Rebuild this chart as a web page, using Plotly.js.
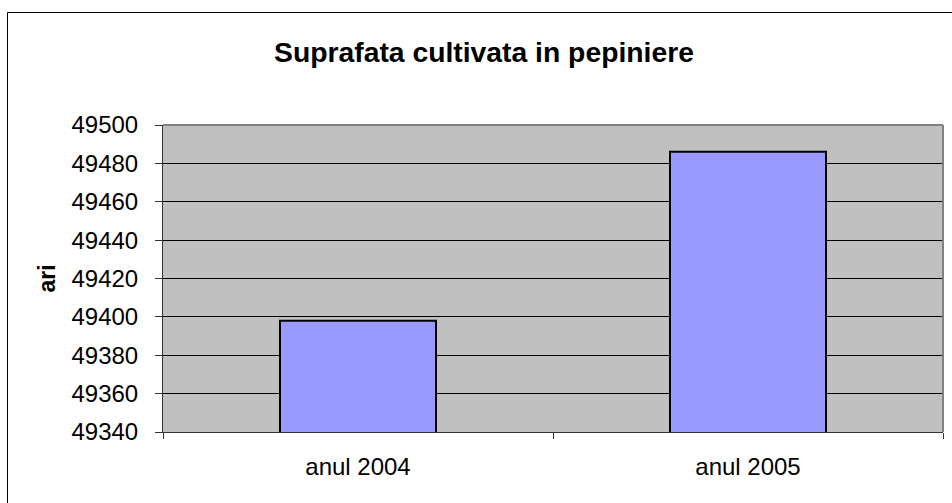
<!DOCTYPE html>
<html>
<head>
<meta charset="utf-8">
<script src="https://cdn.plot.ly/plotly-3.0.1.min.js"></script>
<style>html,body{margin:0;padding:0;background:#fff;}#chart{width:952px;height:503px;}</style>
</head>
<body>
<div id="chart"></div>
<script>
const categories = ["anul 2004", "anul 2005"];
const values = [49398, 49486];
const yTickValues = [49340, 49360, 49380, 49400, 49420, 49440, 49460, 49480, 49500];
const chartTitle = "Suprafata cultivata in pepiniere";
const yTitle = "ari";

const W = 952, H = 503;
const L = 163, R = 9, T = 125, B = 71;
const pw = W - L - R, ph = H - T - B;
const px = v => (v - L) / pw;
const py = v => (H - B - v) / ph;

const trace = {
  type: "bar",
  x: categories,
  y: values,
  width: 0.4,
  marker: { color: "#9999FF", line: { color: "#000000", width: 2 } },
  hoverinfo: "x+y"
};

const layout = {
  width: W, height: H,
  margin: { l: L, r: R, t: T, b: B, pad: 0 },
  paper_bgcolor: "#ffffff",
  plot_bgcolor: "#C0C0C0",
  font: { family: "Liberation Sans, Arial, sans-serif", color: "#000000", size: 24 },
  showlegend: false,
  bargap: 0.6,
  title: {
    text: "<b>" + chartTitle + "</b>",
    font: { size: 28.3, family: "Liberation Sans, Arial, sans-serif", color: "#000" },
    xref: "container", yref: "container",
    x: 484 / W, xanchor: "center",
    y: 1 - 52 / H, yanchor: "middle"
  },
  xaxis: {
    type: "category",
    tickson: "boundaries",
    ticks: "outside", ticklen: 6, tickcolor: "#333", tickwidth: 1,
    showline: true, linecolor: "#333", linewidth: 1,
    showgrid: false,
    tickfont: { size: 24 },
    ticklabelstandoff: 13,
    automargin: false,
    fixedrange: true
  },
  yaxis: {
    range: [49340, 49500],
    tickvals: yTickValues,
    ticktext: yTickValues.map(String),
    ticks: "outside", ticklen: 7, tickcolor: "#333", tickwidth: 1,
    showline: true, linecolor: "#333", linewidth: 1,
    showgrid: true, gridcolor: "#000000", gridwidth: 1,
    zeroline: false,
    tickfont: { size: 24 },
    ticklabelstandoff: 12,
    automargin: false,
    fixedrange: true,
    title: { text: "<b>" + yTitle + "</b>", font: { size: 23 }, standoff: 9 }
  },
  shapes: [
    { type: "line", xref: "paper", yref: "paper", x0: 0, x1: 1, y0: 1, y1: 1,
      line: { color: "#808080", width: 2 }, layer: "above" },
    { type: "line", xref: "paper", yref: "paper", x0: 1, x1: 1, y0: 0, y1: 1,
      line: { color: "#808080", width: 2 }, layer: "above" },
    { type: "rect", xref: "paper", yref: "paper",
      x0: px(7.5), x1: px(1000), y0: py(560), y1: py(12.5),
      line: { color: "#000000", width: 1 }, fillcolor: "rgba(0,0,0,0)", layer: "above" }
  ]
};

Plotly.newPlot("chart", [trace], layout, { displayModeBar: false, staticPlot: true });
</script>
</body>
</html>
